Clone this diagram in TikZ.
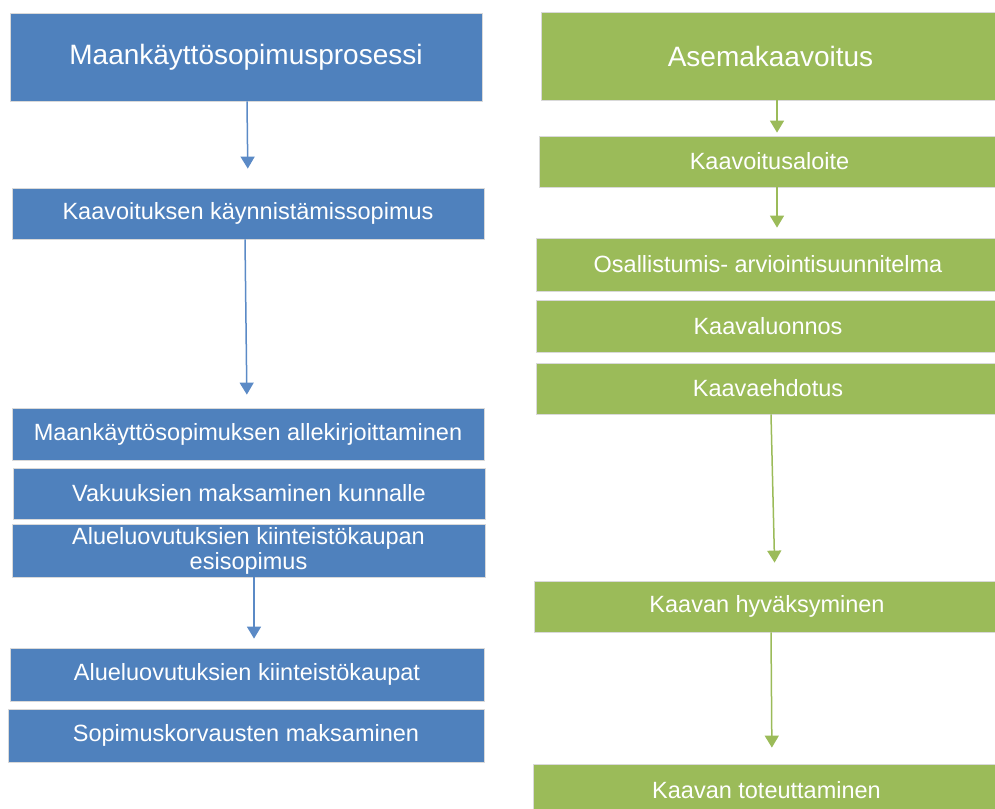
\documentclass[tikz,border=0pt]{standalone}
\usepackage{fontspec}
\setmainfont{Liberation Sans}
\usetikzlibrary{arrows.meta}
\definecolor{bluebox}{HTML}{4F81BD}
\definecolor{greenbox}{HTML}{9BBB59}
\definecolor{bluearr}{HTML}{5B8AC6}
\definecolor{greenarr}{HTML}{9BBB59}
\begin{document}
\begin{tikzpicture}[x=1pt,y=-1pt,
  box/.style={rectangle, draw=white!85!black, line width=0.8pt, text=white, inner sep=0pt, align=center,
    font=\fontsize{23.5}{25}\selectfont},
  bbox/.style={box, fill=bluebox},
  gbox/.style={box, fill=greenbox},
  titlefont/.style={font=\fontsize{28}{30}\selectfont},
  barr/.style={draw=bluearr, line width=1.5pt, -{Triangle[width=14pt,length=12pt]}},
  garr/.style={draw=greenarr, line width=1.5pt, -{Triangle[width=14pt,length=12pt]}}]
\useasboundingbox (0,0) rectangle (995,808);
\clip (0,0) rectangle (995,808);
% left column
\node[bbox, titlefont, minimum width=472pt, minimum height=88pt] (l1) at (246,57) {Maankäyttösopimusprosessi};
\node[bbox, minimum width=472pt, minimum height=51pt] (l2) at (248,213.5) {Kaavoituksen käynnistämissopimus};
\node[bbox, minimum width=472pt, minimum height=52pt] (l3) at (248,434) {Maankäyttösopimuksen allekirjoittaminen};
\node[bbox, minimum width=472pt, minimum height=51pt] (l4) at (249,493.5) {Vakuuksien maksaminen kunnalle};
\node[bbox, minimum width=473pt, minimum height=53pt] (l5) at (248.5,550.5) {Alueluovutuksien kiinteistökaupan\\esisopimus};
\node[bbox, minimum width=474pt, minimum height=53pt] (l6) at (247,674.5) {Alueluovutuksien kiinteistökaupat};
\node[bbox, minimum width=476pt, minimum height=53pt] (l7) at (246,735.5) {Sopimuskorvausten maksaminen};
% right column
\node[gbox, titlefont, minimum width=459pt, minimum height=88pt] (r1) at (770.5,56) {Asemakaavoitus};
\node[gbox, minimum width=461pt, minimum height=51pt] (r2) at (769.5,161.5) {Kaavoitusaloite};
\node[gbox, minimum width=464pt, minimum height=53pt] (r3) at (768,264.5) {Osallistumis- arviointisuunnitelma};
\node[gbox, minimum width=464pt, minimum height=52pt] (r4) at (768,326) {Kaavaluonnos};
\node[gbox, minimum width=464pt, minimum height=51pt] (r5) at (768,388.5) {Kaavaehdotus};
\node[gbox, minimum width=466pt, minimum height=51pt] (r6) at (767,606.5) {Kaavan hyväksyminen};
\node[gbox, minimum width=467pt, minimum height=52pt] (r7) at (766.5,790) {Kaavan toteuttaminen};
% left arrows
\draw[barr, shorten >=19pt] ([xshift=1pt]l1.south) -- ([xshift=0pt]l2.north);
\draw[barr, shorten >=13pt] ([xshift=-3pt]l2.south) -- ([xshift=-1pt]l3.north);
\draw[barr, shorten >=9pt] ([xshift=5.5pt]l5.south) -- ([xshift=7pt]l6.north);
% right arrows
\draw[garr, shorten >=3pt] ([xshift=6.5pt]r1.south) -- ([xshift=7.5pt]r2.north);
\draw[garr, shorten >=10pt] ([xshift=7.5pt]r2.south) -- ([xshift=9pt]r3.north);
\draw[garr, shorten >=18pt] ([xshift=3pt]r5.south) -- ([xshift=8pt]r6.north);
\draw[garr, shorten >=16pt] ([xshift=4pt]r6.south) -- ([xshift=5.5pt]r7.north);
\end{tikzpicture}
\end{document}
